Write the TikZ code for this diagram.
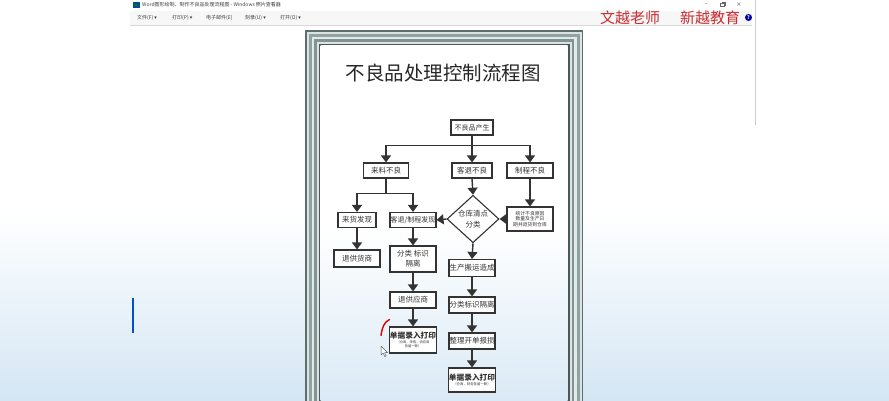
\documentclass[tikz,border=0pt]{standalone}
\usepackage{fontspec}
\setmainfont{Noto Sans CJK SC}
\newfontfamily\dejavu{DejaVu Sans}
\usetikzlibrary{arrows.meta,shapes.geometric}
\definecolor{ln}{HTML}{333333}
\definecolor{wm}{HTML}{CC2A2E}
\definecolor{pageblue}{HTML}{D4E6F4}
\definecolor{frdark}{HTML}{5E6E6E}
\definecolor{frmid}{HTML}{8FA3A2}
\definecolor{frlight}{HTML}{DCE3E3}
\tikzset{
  box/.style={draw=ln, line width=1.1pt, fill=white, minimum height=15pt, inner xsep=0.5pt, inner ysep=1pt, font=\fontsize{7}{8}\selectfont, text=ln},
  arr/.style={draw=ln, line width=1.4pt, -{Triangle[width=10pt,length=7pt]}},
  chrome/.style={font=\fontsize{5}{6}\selectfont, text=black!75, inner sep=0pt, anchor=west},
}
\begin{document}
\begin{tikzpicture}[x=1pt,y=-1pt]
\useasboundingbox (0,0) rectangle (889,400);
% background
\fill[white] (0,0) rectangle (889,400);
\shade[top color=white, bottom color=pageblue, middle color=white] (0,25) rectangle (889,400);
% window chrome
\fill[black!3] (130,11) rectangle (752,25);
\draw[black!15, line width=0.4pt] (130,25.5) -- (752,25.5);
\draw[black!20, line width=0.6pt] (755,0) -- (755,125);
\fill[blue!50!cyan!60!black] (133,2) rectangle (139.5,8);
\fill[green!50!black] (134,5.5) -- (136,3.5) -- (138.5,7) -- cycle;
\node[chrome] (ttl) at (142,5) {Word图形绘制、制作不良品处理流程图 - Windows 照片查看器};
\node[chrome] (m1) at (137,17.5) {文件(F) {\dejavu ▾}};
\node[chrome] (m2) at (172,17.5) {打印(P) {\dejavu ▾}};
\node[chrome] (m3) at (206,17.5) {电子邮件(E)};
\node[chrome] (m4) at (245,17.5) {刻录(U) {\dejavu ▾}};
\node[chrome] (m5) at (280,17.5) {打开(O) {\dejavu ▾}};
\node[font=\dejavu\fontsize{6}{6}\selectfont, text=black!60, inner sep=0pt] (wmin) at (706,5) {–};
\draw[black!60, line width=0.5pt] (720.5,3.5) rectangle (724,6.5);
\draw[black!60, line width=0.5pt] (721.5,2.5) -- (725,2.5) -- (725,5.5);
\node[font=\dejavu\fontsize{6}{6}\selectfont, text=black!60, inner sep=0pt] (wcls) at (739,5) {×};
\node[font=\fontsize{15}{15}\selectfont, text=wm, inner sep=0pt] (wm1) at (630,18) {文越老师};
\node[font=\fontsize{15}{15}\selectfont, text=wm, inner sep=0pt] (wm2) at (710,18) {新越教育};
\node[circle, fill=blue!65!black, inner sep=0pt, minimum size=7pt, text=white, font=\fontsize{5}{5}\selectfont\bfseries] (help) at (748.5,17.5) {?};
\fill[blue!60!cyan!80!black] (132,298) rectangle (134.2,333);
% picture frame
\fill[frdark] (305,30) rectangle (583,410);
\fill[frlight] (306.5,31.5) rectangle (581.5,410);
\fill[frmid] (308.5,33.5) rectangle (579.5,410);
\fill[frlight!80!white] (311.5,36.5) rectangle (576.5,410);
\fill[frmid!90!black] (314,39) rectangle (574,410);
\fill[frlight] (316.5,41.5) rectangle (571.5,410);
\fill[frdark!80!black] (318.5,43.5) rectangle (569.5,410);
\shade[top color=white, bottom color=pageblue!90, middle color=white] (320.5,45.5) rectangle (567.5,410);
% title
\node[font=\fontsize{19.5}{20}\selectfont, text=black!85, inner sep=0pt] (title) at (443,73) {不良品处理控制流程图};
% flow nodes
\node[box, minimum width=42pt] (n0) at (472,127.5) {不良品产生};
\node[box, minimum width=45pt, font=\fontsize{7.5}{8}\selectfont] (a) at (386,170.5) {来料不良};
\node[box, minimum width=40pt, font=\fontsize{7.5}{8}\selectfont] (b) at (472,170.5) {客退不良};
\node[box, minimum width=46pt, font=\fontsize{7.5}{8}\selectfont] (c) at (530,170.5) {制程不良};
\node[box, minimum width=38pt, font=\fontsize{7.5}{8}\selectfont] (d) at (357,220) {来货发现};
\node[box, minimum width=46pt] (e) at (413,220) {客退/制程发现};
\node[draw=ln, line width=1.1pt, fill=white, diamond, minimum width=52pt, minimum height=40pt, inner sep=0pt, align=center, font=\fontsize{7.5}{10.5}\selectfont, text=ln] (k) at (473,219) {仓库清点\\分类};
\node[box, minimum width=46pt, minimum height=24pt, align=center, font=\fontsize{4.8}{5.3}\selectfont] (st) at (530,219) {统计不良原因\\数量及生产日\\期并退货到仓库};
\node[box, minimum width=46pt, minimum height=17pt, font=\fontsize{7.5}{8}\selectfont] (f) at (357,258.5) {退供货商};
\node[box, minimum width=46pt, minimum height=26pt, align=center, font=\fontsize{7.5}{10}\selectfont] (g) at (413,259) {分类 标识\\隔离};
\node[box, minimum width=46pt, minimum height=16pt, font=\fontsize{7.5}{8}\selectfont] (h) at (413,300) {退供应商};
\node[box, minimum width=46pt, minimum height=26pt, align=center, font=\fontsize{3.3}{4.3}\selectfont] (i) at (413,340) {{\fontsize{7.7}{9}\selectfont\bfseries 单据录入打印}\\（仓库，采购，供应商\\各留一联）};
\node[box, minimum width=46pt, minimum height=17pt, font=\fontsize{7.5}{8}\selectfont] (p) at (472,268) {生产搬运造成};
\node[box, minimum width=46pt, minimum height=16pt, font=\fontsize{7.5}{8}\selectfont] (q) at (472,305) {分类标识隔离};
\node[box, minimum width=46pt, minimum height=16pt, font=\fontsize{7.5}{8}\selectfont] (r) at (472,341) {整理开单报损};
\node[box, minimum width=46pt, minimum height=24pt, align=center, font=\fontsize{3.4}{4.5}\selectfont] (s) at (472,380) {{\fontsize{7.7}{9}\selectfont\bfseries 单据录入打印}\\（仓库，财务各留一联）};
% connectors
\draw[arr] (n0.south) -- (b.north);
\draw[arr] (n0.south) -- ++(0,10) -| (a.north);
\draw[arr] (n0.south) -- ++(0,10) -| (c.north);
\draw[arr] (a.south) -- ++(0,15) -| (d.north);
\draw[arr] (a.south) -- ++(0,15) -| (e.north);
\draw[arr] (b.south) -- (k.north);
\draw[arr] (c.south) -- (st.north);
\draw[arr] (st.west) -- (k.east);
\draw[arr] (k.west) -- (e.east);
\draw[arr] (d.south) -- (f.north);
\draw[arr] (e.south) -- (g.north);
\draw[arr] (g.south) -- (h.north);
\draw[arr] (h.south) -- (i.north);
\draw[arr] (k.south) -- (p.north);
\draw[arr] (p.south) -- (q.north);
\draw[arr] (q.south) -- (r.north);
\draw[arr] (r.south) -- (s.north);
% pen mark and cursor
\draw[red!85!black, line width=1.4pt, line cap=round] (381,335.5) .. controls (382,328) and (384,322) .. (389.5,319.5);
\draw[black!60, fill=white, line width=0.5pt, line join=round] (381,346) -- (381,355) -- (383.2,353) -- (384.8,356.6) -- (386.1,356) -- (384.6,352.6) -- (387.6,352.6) -- cycle;
\end{tikzpicture}
\end{document}
